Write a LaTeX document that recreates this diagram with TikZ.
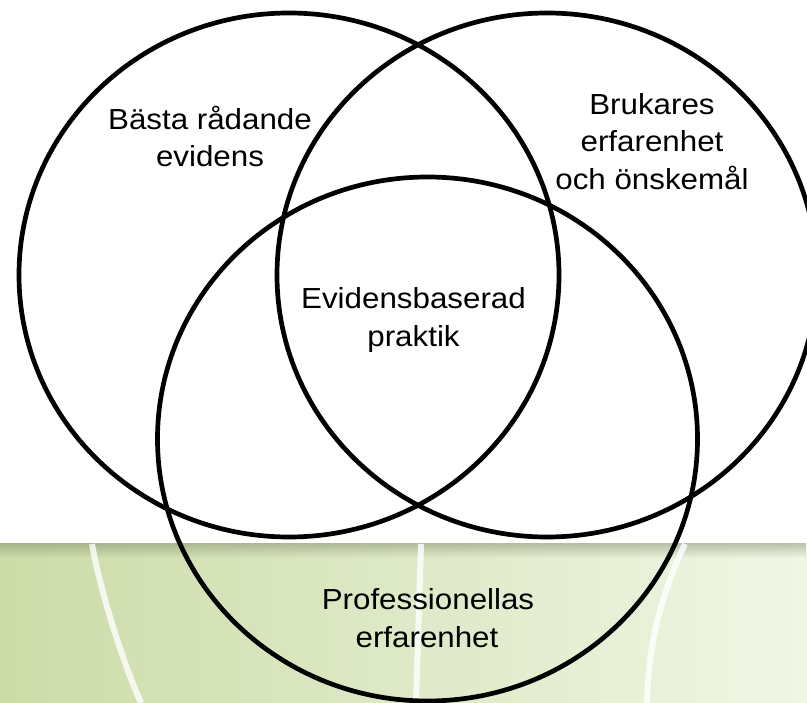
\documentclass[tikz,border=0pt]{standalone}
\usepackage{fontspec}
\setmainfont{Liberation Sans}[FakeStretch=1.08]
\usetikzlibrary{shapes.geometric,fadings}
\definecolor{gLeft}{RGB}{204,220,168}
\definecolor{gMid}{RGB}{221,233,196}
\definecolor{gRight}{RGB}{240,246,229}
\definecolor{shadowc}{RGB}{120,130,100}
\begin{document}
\begin{tikzpicture}[x=1pt,y=-1pt,
  ring/.style={ellipse, draw=black, line width=4.7pt, inner sep=0pt,
               minimum width=540pt, minimum height=524pt},
  lbl/.style={anchor=base, inner sep=0pt, text=black,
              font=\fontsize{29}{35}\selectfont},
  streak/.style={draw=white, line width=6pt, draw opacity=0.8}]
\useasboundingbox (0,0) rectangle (807,703);
\fill[white] (0,0) rectangle (807,703);
% green band
\shade[left color=gLeft, middle color=gMid, right color=gRight] (0,544) rectangle (807,703);
\fill[shadowc, fill opacity=0.45, path fading=south] (0,543) rectangle (807,558);
% white streaks
\coordinate (s1a) at (92,544);
\coordinate (s1b) at (141,703);
\coordinate (s2a) at (421,544);
\coordinate (s2b) at (416,703);
\coordinate (s3a) at (685,544);
\coordinate (s3b) at (647,703);
\draw[streak] (s1a) .. controls (100,590) and (122,660) .. (s1b);
\draw[streak] (s2a) -- (s2b);
\draw[streak] (s3a) .. controls (665,585) and (648,640) .. (s3b);
% circles
\node[ring] (evid) at (289,275) {};
\node[ring] (bruk) at (547,275) {};
\node[ring] (prof) at (427.5,439) {};
% labels
\node[lbl] (t1a) at (210,130) {Bästa rådande};
\node[lbl] (t1b) at (210,167) {evidens};
\node[lbl] (t2a) at (652,115) {Brukares};
\node[lbl] (t2b) at (652,152) {erfarenhet};
\node[lbl] (t2c) at (652,190) {och önskemål};
\node[lbl] (t3a) at (413.5,309) {Evidensbaserad};
\node[lbl] (t3b) at (413.5,347) {praktik};
\node[lbl] (t4a) at (428,609) {Professionellas};
\node[lbl] (t4b) at (427,647) {erfarenhet};
\end{tikzpicture}
\end{document}
